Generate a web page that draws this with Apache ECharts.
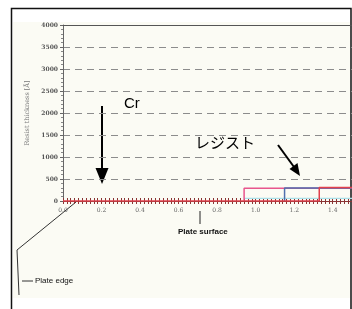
<!DOCTYPE html>
<html>
<head>
<meta charset="utf-8">
<script src="https://cdn.jsdelivr.net/npm/echarts@6/dist/echarts.min.js"></script>
<style>
  html, body { margin: 0; padding: 0; background: #fff; }
  #main { width: 352px; height: 309px; }
</style>
</head>
<body>
<div id="main"></div>
<script>
// 数据
var yTicks = [0, 500, 1000, 1500, 2000, 2500, 3000, 3500, 4000];
var pinkX = [0.94, 0.94, 1.5];
var pinkY = [0, 290, 290];
var blueX = [1.15, 1.15, 1.5];
var blueY = [0, 295, 295];
var redX = [0, 1.33, 1.33, 1.5];
var redY = [0, 0, 305, 305];
var cyanX = [0.94, 1.5];
var cyanY = [60, 60];

function pairs(xs, ys) {
  return xs.map(function (x, i) { return [x, ys[i]]; });
}

var myChart = echarts.init(document.getElementById('main'));
var tickColor = '#8a3434';
var option = {
  animation: false,
  grid: { left: 63, top: 25, right: 0, bottom: 108 },
  xAxis: [{
    type: 'value', min: 0, max: 1.5, interval: 0.2,
    axisLine: { lineStyle: { color: tickColor, width: 1 } },
    axisTick: { length: 3, lineStyle: { color: tickColor } },
    minorTick: { show: true, splitNumber: 10, length: 3, lineStyle: { color: tickColor } },
    axisLabel: {
      color: '#666', fontSize: 6, margin: 6, fontFamily: 'DejaVu Serif', showMaxLabel: false,
      formatter: function (v) { return v.toFixed(1); }
    },
    splitLine: { show: false }
  }, {
    // 内侧刻度
    type: 'value', min: 0, max: 1.5, interval: 0.2, position: 'bottom',
    axisLine: { show: false },
    axisTick: { inside: true, length: 3, lineStyle: { color: tickColor } },
    minorTick: { show: true, splitNumber: 10, length: 3, lineStyle: { color: tickColor } },
    axisLabel: { show: false },
    splitLine: { show: false }
  }, {
    // 顶部实线
    type: 'value', min: 0, max: 1.5, position: 'top',
    axisLine: { lineStyle: { color: '#555', width: 1 } },
    axisTick: { show: false }, axisLabel: { show: false },
    splitLine: { show: false }
  }],
  yAxis: {
    type: 'value', min: 0, max: 4000, interval: 500,
    name: 'Resist thickness [Å]', nameLocation: 'middle', nameRotate: 90, nameGap: 27,
    nameTextStyle: { color: '#777', fontSize: 6.5, fontFamily: 'DejaVu Serif' },
    axisLine: { show: true, lineStyle: { color: '#666' } },
    axisTick: { show: true, length: 3, lineStyle: { color: '#666' } },
    minorTick: { show: true, splitNumber: 5, length: 2, lineStyle: { color: '#888' } },
    axisLabel: {
      color: '#555', fontSize: 6, margin: 5, fontFamily: 'DejaVu Serif', fontWeight: 'bold',
      formatter: function (v) { return yTicks.indexOf(v) >= 0 ? String(v) : ''; }
    },
    splitLine: { show: true, lineStyle: { color: '#8c8c8c', type: [7, 5], width: 1 } }
  },
  series: [
    { type: 'line', data: pairs(cyanX, cyanY), symbol: 'none', lineStyle: { color: '#a9dfe8', width: 1.2 } },
    { type: 'line', data: pairs(pinkX, pinkY), symbol: 'none', lineStyle: { color: '#e8558c', width: 1.5 } },
    { type: 'line', data: pairs(blueX, blueY), symbol: 'none', lineStyle: { color: '#4f6fae', width: 1.5 } },
    { type: 'line', data: pairs(redX, redY), symbol: 'none', lineStyle: { color: '#e2404c', width: 1.5 } }
  ],
  graphic: [
    { type: 'rect', z: -10, shape: { x: 13, y: 22, width: 337, height: 276 }, style: { fill: '#fbfbf4' } },
    // 外框
    { type: 'polyline', shape: { points: [[11.5, 309], [11.5, 8.5], [351, 8.5], [351, 309]] }, style: { stroke: '#111', lineWidth: 1.5, fill: null } },
    // Cr 箭头
    { type: 'text', left: 124, top: 96, style: { text: 'Cr', fill: '#000', font: '15px "Liberation Sans"' } },
    { type: 'line', shape: { x1: 102, y1: 106, x2: 102, y2: 172 }, style: { stroke: '#000', lineWidth: 2 } },
    { type: 'polygon', shape: { points: [[95.5, 168], [108.5, 168], [102, 184]] }, style: { fill: '#000' } },
    // レジスト 箭头
    { type: 'text', left: 195, top: 135, style: { text: 'レジスト', fill: '#000', font: '15px "Noto Sans CJK JP"' } },
    { type: 'line', shape: { x1: 278, y1: 145, x2: 294, y2: 167 }, style: { stroke: '#000', lineWidth: 2 } },
    { type: 'polygon', shape: { points: [[289.5, 169], [297.5, 163], [300, 176]] }, style: { fill: '#000' } },
    // Plate surface
    { type: 'line', shape: { x1: 200, y1: 211, x2: 200, y2: 224 }, style: { stroke: '#222', lineWidth: 1 } },
    { type: 'text', left: 178, top: 228, style: { text: 'Plate surface', fill: '#111', font: 'bold 8px "Liberation Sans"' } },
    // Plate edge
    { type: 'polyline', shape: { points: [[76, 202], [17, 250], [19, 295]] }, style: { stroke: '#333', lineWidth: 1, fill: null } },
    { type: 'line', shape: { x1: 22, y1: 281, x2: 33, y2: 281 }, style: { stroke: '#333', lineWidth: 1 } },
    { type: 'text', left: 35, top: 277, style: { text: 'Plate edge', fill: '#111', font: '8px "Liberation Sans"' } }
  ]
};

myChart.setOption(option);
</script>
</body>
</html>
